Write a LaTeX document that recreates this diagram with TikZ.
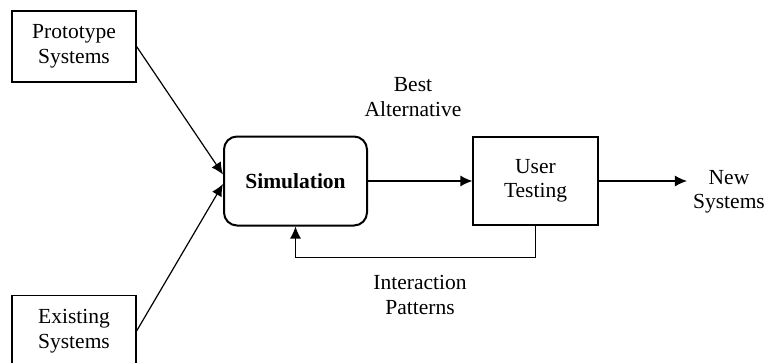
\documentclass[tikz,border=0pt]{standalone}
\usepackage{fontspec}
\setmainfont{Liberation Serif}
\usetikzlibrary{arrows.meta}
\begin{document}
\begin{tikzpicture}[x=1pt,y=-1pt,
  every node/.style={font=\fontsize{21.5}{24.5}\selectfont, align=center, inner sep=0pt},
  plainbox/.style={draw, line width=1.2pt, minimum width=124pt, minimum height=71pt},
  simbox/.style={draw, line width=2pt, rounded corners=13pt, minimum width=143pt, minimum height=89pt},
  conn/.style={line width=1.2pt, -{Latex[length=12pt,width=11pt]}},
  plainline/.style={line width=1.2pt}]
\useasboundingbox (0,0) rectangle (764,362);
\node[plainbox] (proto) at (74,46.5) {Prototype\\Systems};
\node[plainbox] (exist) at (74,331) {Existing\\Systems};
\node[simbox] (sim) at (295.5,181) {\textbf{Simulation}};
\node[plainbox, minimum width=125pt, minimum height=88pt] (user) at (535.5,181) {User\\Testing};
\node (best) at (413,97) {Best\\Alternative};
\node (inter) at (420,295) {Interaction\\Patterns};
\node (new) at (729,192) {New\\Systems};
\draw[conn] (proto.east) -- ([yshift=6.5pt]sim.west);
\draw[conn] (exist.east) -- ([yshift=-3pt]sim.west);
\draw[conn] (sim.east) -- (user.west);
\draw[conn, shorten >=6pt] (user.east) -- (user.east -| new.west);
\draw[conn] (user.south) -- ++(0,32) -| (sim.south);
\end{tikzpicture}
\end{document}
